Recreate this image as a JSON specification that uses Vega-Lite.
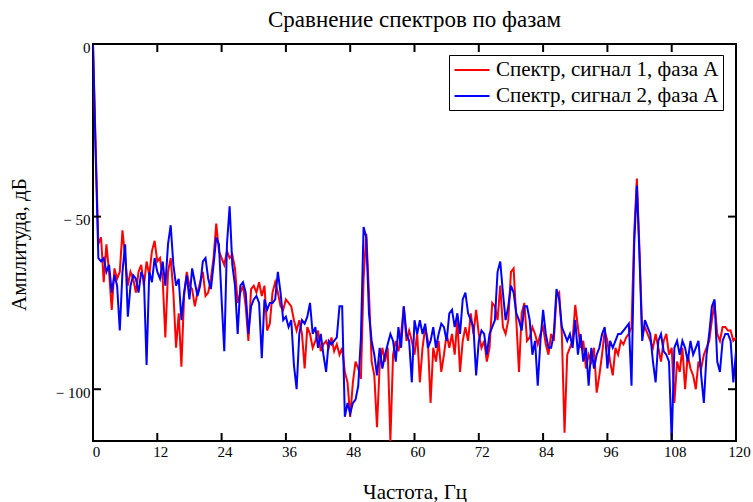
{
"$schema": "https://vega.github.io/schema/vega-lite/v6.json",
"width": 643, "height": 397,
"autosize": "none",
"padding": {"left": 93, "top": 44, "right": 17, "bottom": 61},
"background": "white",
"title": {"text": "Сравнение спектров по фазам", "font": "Liberation Serif", "fontSize": 23, "fontWeight": "normal", "color": "black", "offset": 8, "anchor": "middle"},
"datasets": {
"spec": [
{"f":0,"a":0,"b":0},{"f":0.5,"a":-30,"b":-32},{"f":1,"a":-58,"b":-62},{"f":1.5,"a":-56,"b":-63},{"f":2,"a":-69,"b":-62},{"f":2.5,"a":-58,"b":-66},{"f":3,"a":-66,"b":-64},{"f":3.5,"a":-77,"b":-72},{"f":4,"a":-65,"b":-67},{"f":4.5,"a":-68,"b":-70},{"f":5,"a":-66,"b":-83},{"f":5.5,"a":-54,"b":-66},{"f":6,"a":-62,"b":-58},{"f":6.5,"a":-70,"b":-79},{"f":7,"a":-66,"b":-70},{"f":7.5,"a":-68,"b":-67},{"f":8,"a":-72,"b":-68},{"f":8.5,"a":-66,"b":-72},{"f":9,"a":-64,"b":-66},{"f":9.5,"a":-70,"b":-68},{"f":10,"a":-63,"b":-93},{"f":10.5,"a":-67,"b":-66},{"f":11,"a":-60,"b":-69},{"f":11.5,"a":-57,"b":-62},{"f":12,"a":-63,"b":-66},
{"f":12.5,"a":-62,"b":-68},{"f":13,"a":-68,"b":-63},{"f":13.5,"a":-85,"b":-70},{"f":14,"a":-66,"b":-58},{"f":14.5,"a":-62,"b":-52.5},{"f":15,"a":-72,"b":-64},{"f":15.5,"a":-88,"b":-70},{"f":16,"a":-78,"b":-68},{"f":16.5,"a":-93.5,"b":-80},{"f":17,"a":-73,"b":-72},{"f":17.5,"a":-66,"b":-67},{"f":18,"a":-70,"b":-74},{"f":18.5,"a":-71,"b":-65},{"f":19,"a":-76,"b":-69},{"f":19.5,"a":-72,"b":-73},{"f":20,"a":-69,"b":-70},{"f":20.5,"a":-66,"b":-63},{"f":21,"a":-73,"b":-62},{"f":21.5,"a":-72,"b":-68},{"f":22,"a":-68,"b":-71},{"f":22.5,"a":-62,"b":-64},{"f":23,"a":-52,"b":-56},{"f":23.5,"a":-60,"b":-58},{"f":24,"a":-62,"b":-74},
{"f":24.5,"a":-64,"b":-89},{"f":25,"a":-60,"b":-58},{"f":25.5,"a":-62,"b":-47},{"f":26,"a":-61,"b":-64},{"f":26.5,"a":-65,"b":-70},{"f":27,"a":-75,"b":-84},{"f":27.5,"a":-72,"b":-70},{"f":28,"a":-70,"b":-69},{"f":28.5,"a":-76,"b":-72},{"f":29,"a":-86,"b":-84},{"f":29.5,"a":-71,"b":-76},{"f":30,"a":-70,"b":-74},{"f":30.5,"a":-72,"b":-73},{"f":31,"a":-69,"b":-75},{"f":31.5,"a":-73,"b":-91},{"f":32,"a":-70,"b":-74},{"f":32.5,"a":-83,"b":-77},{"f":33,"a":-81,"b":-75},{"f":33.5,"a":-72,"b":-75},{"f":34,"a":-69,"b":-74},{"f":34.5,"a":-72,"b":-66},{"f":35,"a":-76,"b":-72},{"f":35.5,"a":-77,"b":-80},{"f":36,"a":-74,"b":-79},
{"f":36.5,"a":-75,"b":-82},{"f":37,"a":-76,"b":-80},{"f":37.5,"a":-80,"b":-93},{"f":38,"a":-83,"b":-100},{"f":38.5,"a":-80,"b":-84},{"f":39,"a":-84,"b":-80},{"f":39.5,"a":-94,"b":-81},{"f":40,"a":-82,"b":-79},{"f":40.5,"a":-84,"b":-75},{"f":41,"a":-88,"b":-84},{"f":41.5,"a":-86,"b":-82},{"f":42,"a":-83,"b":-88},{"f":42.5,"a":-89,"b":-84},{"f":43,"a":-87,"b":-90},{"f":43.5,"a":-86,"b":-95},{"f":44,"a":-88,"b":-86},{"f":44.5,"a":-85,"b":-87},{"f":45,"a":-89,"b":-86},{"f":45.5,"a":-87,"b":-85},{"f":46,"a":-90,"b":-76},{"f":46.5,"a":-88,"b":-76},{"f":47,"a":-95,"b":-108},{"f":47.5,"a":-98,"b":-104},{"f":48,"a":-108,"b":-107},
{"f":48.5,"a":-98,"b":-104},{"f":49,"a":-92,"b":-103},{"f":49.5,"a":-94,"b":-99},{"f":50,"a":-97,"b":-85},{"f":50.5,"a":-68,"b":-53},{"f":51,"a":-55,"b":-56},{"f":51.5,"a":-72,"b":-78},{"f":52,"a":-92,"b":-86},{"f":52.5,"a":-96,"b":-90},{"f":53,"a":-111,"b":-96},{"f":53.5,"a":-93,"b":-88},{"f":54,"a":-88,"b":-94},{"f":54.5,"a":-92,"b":-90},{"f":55,"a":-88,"b":-87},{"f":55.5,"a":-115,"b":-84},{"f":56,"a":-90,"b":-86},{"f":56.5,"a":-86,"b":-92},{"f":57,"a":-89,"b":-82},{"f":57.5,"a":-84,"b":-88},{"f":58,"a":-76,"b":-76},{"f":58.5,"a":-86,"b":-84},{"f":59,"a":-83,"b":-86},{"f":59.5,"a":-86,"b":-98},{"f":60,"a":-90,"b":-80},
{"f":60.5,"a":-84,"b":-84},{"f":61,"a":-98,"b":-80},{"f":61.5,"a":-88,"b":-84},{"f":62,"a":-82,"b":-81},{"f":62.5,"a":-86,"b":-88},{"f":63,"a":-104,"b":-86},{"f":63.5,"a":-88,"b":-82},{"f":64,"a":-92,"b":-88},{"f":64.5,"a":-86,"b":-84},{"f":65,"a":-95,"b":-81},{"f":65.5,"a":-90,"b":-82},{"f":66,"a":-84,"b":-86},{"f":66.5,"a":-88,"b":-78},{"f":67,"a":-84,"b":-77},{"f":67.5,"a":-90,"b":-82},{"f":68,"a":-80,"b":-78},{"f":68.5,"a":-95,"b":-84},{"f":69,"a":-86,"b":-74},{"f":69.5,"a":-82,"b":-72},{"f":70,"a":-86,"b":-78},{"f":70.5,"a":-78,"b":-80},{"f":71,"a":-84,"b":-82},{"f":71.5,"a":-77,"b":-96},{"f":72,"a":-84,"b":-86},
{"f":72.5,"a":-88,"b":-83},{"f":73,"a":-86,"b":-84},{"f":73.5,"a":-92,"b":-90},{"f":74,"a":-88,"b":-84},{"f":74.5,"a":-75,"b":-82},{"f":75,"a":-76,"b":-80},{"f":75.5,"a":-80,"b":-66},{"f":76,"a":-70,"b":-63},{"f":76.5,"a":-82,"b":-72},{"f":77,"a":-84,"b":-80},{"f":77.5,"a":-80,"b":-76},{"f":78,"a":-66,"b":-70},{"f":78.5,"a":-65,"b":-72},{"f":79,"a":-80,"b":-78},{"f":79.5,"a":-95,"b":-80},{"f":80,"a":-78,"b":-83},{"f":80.5,"a":-75,"b":-76},{"f":81,"a":-86,"b":-76},{"f":81.5,"a":-85,"b":-80},{"f":82,"a":-82,"b":-90},{"f":82.5,"a":-84,"b":-86},{"f":83,"a":-87,"b":-99},{"f":83.5,"a":-84,"b":-86},{"f":84,"a":-82,"b":-77},
{"f":84.5,"a":-87,"b":-84},{"f":85,"a":-90,"b":-88},{"f":85.5,"a":-84,"b":-88},{"f":86,"a":-86,"b":-84},{"f":86.5,"a":-73,"b":-71},{"f":87,"a":-72,"b":-74},{"f":87.5,"a":-84,"b":-82},{"f":88,"a":-112.6,"b":-84},{"f":88.5,"a":-90,"b":-86},{"f":89,"a":-88,"b":-84},{"f":89.5,"a":-86,"b":-88},{"f":90,"a":-75.6,"b":-80},{"f":90.5,"a":-82,"b":-90},{"f":91,"a":-88,"b":-84},{"f":91.5,"a":-86,"b":-92},{"f":92,"a":-94,"b":-88},{"f":92.5,"a":-90,"b":-99},{"f":93,"a":-92,"b":-88},{"f":93.5,"a":-88,"b":-94},{"f":94,"a":-101,"b":-90},{"f":94.5,"a":-96,"b":-88},{"f":95,"a":-90,"b":-84},{"f":95.5,"a":-83,"b":-82},{"f":96,"a":-86,"b":-94},
{"f":96.5,"a":-92,"b":-86},{"f":97,"a":-96,"b":-88},{"f":97.5,"a":-88,"b":-86},{"f":98,"a":-90,"b":-84},{"f":98.5,"a":-86,"b":-84},{"f":99,"a":-87,"b":-83},{"f":99.5,"a":-85,"b":-82},{"f":100,"a":-84,"b":-81},{"f":100.5,"a":-82,"b":-99},{"f":101,"a":-55,"b":-58},{"f":101.5,"a":-39,"b":-41},{"f":102,"a":-60,"b":-62},{"f":102.5,"a":-84,"b":-86},{"f":103,"a":-82,"b":-80},{"f":103.5,"a":-84,"b":-82},{"f":104,"a":-86,"b":-84},{"f":104.5,"a":-88,"b":-92},{"f":105,"a":-84,"b":-98},{"f":105.5,"a":-88,"b":-86},{"f":106,"a":-92,"b":-84},{"f":106.5,"a":-86,"b":-89},{"f":107,"a":-84,"b":-90},{"f":107.5,"a":-90,"b":-92},{"f":108,"a":-88,"b":-115},
{"f":108.5,"a":-104,"b":-88},{"f":109,"a":-92,"b":-86},{"f":109.5,"a":-95,"b":-90},{"f":110,"a":-88,"b":-86},{"f":110.5,"a":-100,"b":-88},{"f":111,"a":-90,"b":-92},{"f":111.5,"a":-94,"b":-86},{"f":112,"a":-96,"b":-90},{"f":112.5,"a":-100,"b":-88},{"f":113,"a":-92,"b":-86},{"f":113.5,"a":-94,"b":-96},{"f":114,"a":-90,"b":-104},{"f":114.5,"a":-88,"b":-90},{"f":115,"a":-86,"b":-84},{"f":115.5,"a":-80,"b":-76},{"f":116,"a":-75,"b":-74},{"f":116.5,"a":-84,"b":-92},{"f":117,"a":-86,"b":-95},{"f":117.5,"a":-82,"b":-86},{"f":118,"a":-82,"b":-84},{"f":118.5,"a":-83,"b":-84},{"f":119,"a":-83,"b":-86},{"f":119.5,"a":-86,"b":-98},{"f":120,"a":-85,"b":-89}
],
"xt": [{"t":12},{"t":24},{"t":36},{"t":48},{"t":60},{"t":72},{"t":84},{"t":96},{"t":108}],
"yt": [{"t":0},{"t":-50},{"t":-100}]
},
"layer": [
{"data": {"name": "spec"},
 "transform": [{"fold": ["a", "b"], "as": ["s", "v"]}],
 "mark": {"type": "line", "strokeWidth": 2, "clip": true, "interpolate": "linear"},
 "encoding": {
  "x": {"field": "f", "type": "quantitative", "scale": {"domain": [0, 120], "nice": false, "zero": false},
        "axis": {"orient": "bottom", "domain": false, "ticks": false, "grid": false, "values": [0,12,24,36,48,60,72,84,96,108,120],
                 "labelPadding": 3, "labelOffset": 3, "labelFont": "Liberation Serif", "labelFontSize": 15, "labelColor": "black", "labelFlush": false, "labelOverlap": false,
                 "title": "Частота, Гц", "titleFont": "Liberation Serif", "titleFontSize": 21, "titleFontWeight": "normal", "titleColor": "black", "titleBaseline": "alphabetic", "titleY": 57}},
  "y": {"field": "v", "type": "quantitative", "scale": {"domain": [-115, 0], "nice": false, "zero": false},
        "axis": {"orient": "left", "domain": false, "ticks": false, "grid": false, "values": [0, -50, -100],
                 "labelPadding": 3, "labelOffset": 3, "labelFont": "Liberation Serif", "labelFontSize": 15, "labelColor": "black", "labelOverlap": false, "labelFlush": false,
                 "labelExpr": "datum.value == 0 ? '0' : '− ' + abs(datum.value)",
                 "title": "Амплитуда, дБ", "titleFont": "Liberation Serif", "titleFontSize": 21, "titleFontWeight": "normal", "titleColor": "black", "titleBaseline": "alphabetic", "titleX": -68, "titleY": 200}},
  "color": {"field": "s", "type": "nominal", "scale": {"domain": ["a", "b"], "range": ["#ff0000", "#0000ff"]},
    "legend": {"orient": "none", "legendX": 356, "legendY": 11, "title": null, "strokeColor": "black", "fillColor": "white", "padding": 4,
               "labelExpr": "datum.value == 'a' ? 'Спектр, сигнал 1, фаза A' : 'Спектр, сигнал 2, фаза A'",
               "labelFont": "Liberation Serif", "labelFontSize": 21, "labelColor": "black", "labelLimit": 400, "labelOffset": 13,
               "symbolType": "M-1.75,0L1.75,0", "symbolStrokeWidth": 2, "symbolSize": 400, "symbolOffset": 8, "rowPadding": 5}}
 }},
{"data": {"name": "xt"},
 "mark": {"type": "tick", "orient": "vertical", "size": 16, "thickness": 2, "color": "black", "opacity": 1, "clip": true},
 "encoding": {"x": {"field": "t", "type": "quantitative"}, "y": {"datum": -115, "type": "quantitative"}}},
{"data": {"name": "xt"},
 "mark": {"type": "tick", "orient": "vertical", "size": 16, "thickness": 2, "color": "black", "opacity": 1, "clip": true},
 "encoding": {"x": {"field": "t", "type": "quantitative"}, "y": {"datum": 0, "type": "quantitative"}}},
{"data": {"name": "yt"},
 "mark": {"type": "tick", "orient": "horizontal", "size": 16, "thickness": 2, "color": "black", "opacity": 1, "clip": true},
 "encoding": {"y": {"field": "t", "type": "quantitative"}, "x": {"datum": 0, "type": "quantitative"}}},
{"data": {"name": "yt"},
 "mark": {"type": "tick", "orient": "horizontal", "size": 16, "thickness": 2, "color": "black", "opacity": 1, "clip": true},
 "encoding": {"y": {"field": "t", "type": "quantitative"}, "x": {"datum": 120, "type": "quantitative"}}}
],
"config": {"view": {"stroke": "black", "strokeWidth": 2}}
}
